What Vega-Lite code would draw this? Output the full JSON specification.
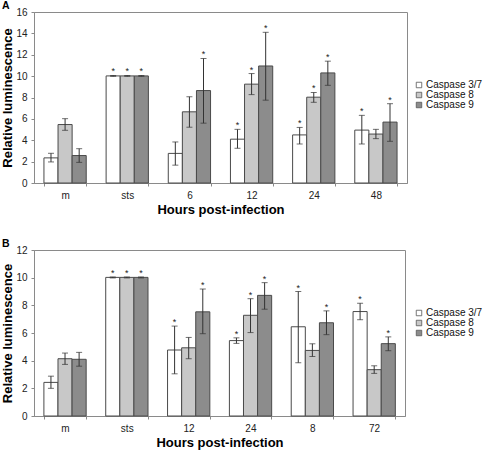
{
  "$schema": "https://vega.github.io/schema/vega-lite/v6.json",
  "padding": {"left": 1, "top": 0, "right": 0, "bottom": 0},
  "background": "white",
  "config": {
    "font": "Liberation Sans",
    "view": {"stroke": "#8a8a8a", "strokeWidth": 1},
    "axis": {"domainColor": "#8a8a8a", "tickColor": "#8a8a8a", "labelColor": "#222", "labelFontSize": 10, "labelFont": "Liberation Sans", "titleFont": "Liberation Sans", "titleFontSize": 13, "titleFontWeight": "bold", "titleColor": "#000", "grid": false, "tickSize": 3, "labelOverlap": false},
    "title": {"fontSize": 10.5, "fontWeight": "bold", "anchor": "start", "frame": "bounds", "offset": -4, "color": "#000", "font": "Liberation Sans"},
    "concat": {"spacing": 21}
  },
  "datasets": {
    "a": [
      {"hour": "m", "series": "Caspase 3/7", "value": 2.35, "lo": 1.97, "hi": 2.78, "sig": ""},
      {"hour": "m", "series": "Caspase 8", "value": 5.47, "lo": 4.93, "hi": 6.02, "sig": ""},
      {"hour": "m", "series": "Caspase 9", "value": 2.57, "lo": 1.93, "hi": 3.21, "sig": ""},
      {"hour": "sts", "series": "Caspase 3/7", "value": 10.02, "lo": 9.98, "hi": 10.06, "sig": "*"},
      {"hour": "sts", "series": "Caspase 8", "value": 10.02, "lo": 9.98, "hi": 10.06, "sig": "*"},
      {"hour": "sts", "series": "Caspase 9", "value": 10.02, "lo": 9.98, "hi": 10.06, "sig": "*"},
      {"hour": "6", "series": "Caspase 3/7", "value": 2.77, "lo": 1.67, "hi": 3.84, "sig": ""},
      {"hour": "6", "series": "Caspase 8", "value": 6.66, "lo": 5.22, "hi": 8.07, "sig": ""},
      {"hour": "6", "series": "Caspase 9", "value": 8.65, "lo": 5.6, "hi": 11.65, "sig": "*"},
      {"hour": "12", "series": "Caspase 3/7", "value": 4.1, "lo": 3.25, "hi": 5.02, "sig": "*"},
      {"hour": "12", "series": "Caspase 8", "value": 9.25, "lo": 8.27, "hi": 10.24, "sig": "*"},
      {"hour": "12", "series": "Caspase 9", "value": 10.95, "lo": 7.75, "hi": 14.1, "sig": "*"},
      {"hour": "24", "series": "Caspase 3/7", "value": 4.5, "lo": 3.65, "hi": 5.2, "sig": "*"},
      {"hour": "24", "series": "Caspase 8", "value": 8.03, "lo": 7.55, "hi": 8.47, "sig": "*"},
      {"hour": "24", "series": "Caspase 9", "value": 10.3, "lo": 9.14, "hi": 11.4, "sig": "*"},
      {"hour": "48", "series": "Caspase 3/7", "value": 4.95, "lo": 3.65, "hi": 6.33, "sig": "*"},
      {"hour": "48", "series": "Caspase 8", "value": 4.58, "lo": 4.15, "hi": 5.02, "sig": ""},
      {"hour": "48", "series": "Caspase 9", "value": 5.7, "lo": 3.9, "hi": 7.42, "sig": "*"}
    ],
    "b": [
      {"hour": "m", "series": "Caspase 3/7", "value": 2.43, "lo": 2.0, "hi": 2.88, "sig": ""},
      {"hour": "m", "series": "Caspase 8", "value": 4.14, "lo": 3.73, "hi": 4.55, "sig": ""},
      {"hour": "m", "series": "Caspase 9", "value": 4.1, "lo": 3.6, "hi": 4.6, "sig": ""},
      {"hour": "sts", "series": "Caspase 3/7", "value": 10.02, "lo": 9.98, "hi": 10.05, "sig": "*"},
      {"hour": "sts", "series": "Caspase 8", "value": 10.02, "lo": 9.98, "hi": 10.05, "sig": "*"},
      {"hour": "sts", "series": "Caspase 9", "value": 10.02, "lo": 9.98, "hi": 10.05, "sig": "*"},
      {"hour": "12", "series": "Caspase 3/7", "value": 4.77, "lo": 3.05, "hi": 6.5, "sig": "*"},
      {"hour": "12", "series": "Caspase 8", "value": 4.93, "lo": 4.14, "hi": 5.68, "sig": ""},
      {"hour": "12", "series": "Caspase 9", "value": 7.53, "lo": 5.95, "hi": 9.18, "sig": "*"},
      {"hour": "24", "series": "Caspase 3/7", "value": 5.45, "lo": 5.25, "hi": 5.65, "sig": "*"},
      {"hour": "24", "series": "Caspase 8", "value": 7.28, "lo": 6.03, "hi": 8.48, "sig": "*"},
      {"hour": "24", "series": "Caspase 9", "value": 8.72, "lo": 7.72, "hi": 9.64, "sig": "*"},
      {"hour": "8", "series": "Caspase 3/7", "value": 6.45, "lo": 3.85, "hi": 9.0, "sig": "*"},
      {"hour": "8", "series": "Caspase 8", "value": 4.74, "lo": 4.3, "hi": 5.22, "sig": ""},
      {"hour": "8", "series": "Caspase 9", "value": 6.74, "lo": 5.88, "hi": 7.6, "sig": "*"},
      {"hour": "72", "series": "Caspase 3/7", "value": 7.55, "lo": 6.96, "hi": 8.15, "sig": "*"},
      {"hour": "72", "series": "Caspase 8", "value": 3.35, "lo": 3.08, "hi": 3.63, "sig": ""},
      {"hour": "72", "series": "Caspase 9", "value": 5.23, "lo": 4.72, "hi": 5.72, "sig": "*"}
    ]
  },
  "resolve": {"legend": {"color": "independent"}, "scale": {"y": "independent", "x": "independent"}},
  "vconcat": [
    {
      "title": {"text": "A"},
      "width": 373,
      "height": 171,
      "data": {"name": "a"},
      "encoding": {
        "x": {"field": "hour", "type": "nominal", "sort": ["m", "sts", "6", "12", "24", "48"], "scale": {"paddingInner": 0.32, "paddingOuter": 0.16}, "axis": {"title": "Hours post-infection", "labelAngle": 0, "tickBand": "extent", "labelPadding": 4, "titlePadding": 3}},
        "xOffset": {"field": "series", "type": "nominal", "sort": ["Caspase 3/7", "Caspase 8", "Caspase 9"], "scale": {"paddingInner": 0, "paddingOuter": 0}}
      },
      "layer": [
        {
          "mark": {"type": "bar", "stroke": "#4a4a4a", "strokeWidth": 1},
          "encoding": {
            "y": {"field": "value", "type": "quantitative", "title": "Relative luminescence", "scale": {"domain": [0, 16], "nice": false}, "axis": {"values": [0, 2, 4, 6, 8, 10, 12, 14, 16], "tickCount": 9, "labelPadding": 4, "titlePadding": 1, "labelOverlap": false}},
            "color": {"field": "series", "type": "nominal", "scale": {"domain": ["Caspase 3/7", "Caspase 8", "Caspase 9"], "range": ["#ffffff", "#c8c8c8", "#8c8c8c"]}, "legend": {"orient": "none", "legendX": 380, "legendY": 68, "title": null, "padding": 0, "symbolType": "square", "symbolSize": 30, "symbolStrokeColor": "#555", "symbolStrokeWidth": 0.8, "labelFontSize": 10, "labelColor": "#111", "rowPadding": 0, "labelOffset": 2}}
          }
        },
        {
          "mark": {"type": "rule", "color": "#333", "strokeWidth": 1},
          "encoding": {"y": {"field": "lo", "type": "quantitative", "title": "Relative luminescence", "axis": {"values": [0, 2, 4, 6, 8, 10, 12, 14, 16], "tickCount": 9, "labelPadding": 4, "titlePadding": 1, "labelOverlap": false}}, "y2": {"field": "hi"}}
        },
        {
          "mark": {"type": "tick", "color": "#333", "thickness": 1, "size": 6},
          "encoding": {"y": {"field": "lo", "type": "quantitative", "title": "Relative luminescence", "axis": {"values": [0, 2, 4, 6, 8, 10, 12, 14, 16], "tickCount": 9, "labelPadding": 4, "titlePadding": 1, "labelOverlap": false}}}
        },
        {
          "mark": {"type": "tick", "color": "#333", "thickness": 1, "size": 6},
          "encoding": {"y": {"field": "hi", "type": "quantitative", "title": "Relative luminescence", "axis": {"values": [0, 2, 4, 6, 8, 10, 12, 14, 16], "tickCount": 9, "labelPadding": 4, "titlePadding": 1, "labelOverlap": false}}}
        },
        {
          "mark": {"type": "text", "fontSize": 9, "baseline": "alphabetic", "dy": -1, "color": "#222"},
          "encoding": {"y": {"field": "hi", "type": "quantitative", "title": "Relative luminescence", "axis": {"values": [0, 2, 4, 6, 8, 10, 12, 14, 16], "tickCount": 9, "labelPadding": 4, "titlePadding": 1, "labelOverlap": false}}, "text": {"field": "sig"}}
        }
      ]
    },
    {
      "title": {"text": "B"},
      "width": 371,
      "height": 166,
      "data": {"name": "b"},
      "encoding": {
        "x": {"field": "hour", "type": "nominal", "sort": ["m", "sts", "12", "24", "8", "72"], "scale": {"paddingInner": 0.32, "paddingOuter": 0.16}, "axis": {"title": "Hours post-infection", "labelAngle": 0, "tickBand": "extent", "labelPadding": 4, "titlePadding": 3}},
        "xOffset": {"field": "series", "type": "nominal", "sort": ["Caspase 3/7", "Caspase 8", "Caspase 9"], "scale": {"paddingInner": 0, "paddingOuter": 0}}
      },
      "layer": [
        {
          "mark": {"type": "bar", "stroke": "#4a4a4a", "strokeWidth": 1},
          "encoding": {
            "y": {"field": "value", "type": "quantitative", "title": "Relative luminescence", "scale": {"domain": [0, 12], "nice": false}, "axis": {"values": [0, 2, 4, 6, 8, 10, 12], "tickCount": 7, "labelPadding": 4, "titlePadding": 1, "labelOverlap": false}},
            "color": {"field": "series", "type": "nominal", "scale": {"domain": ["Caspase 3/7", "Caspase 8", "Caspase 9"], "range": ["#ffffff", "#c8c8c8", "#8c8c8c"]}, "legend": {"orient": "none", "legendX": 380, "legendY": 58, "title": null, "padding": 0, "symbolType": "square", "symbolSize": 30, "symbolStrokeColor": "#555", "symbolStrokeWidth": 0.8, "labelFontSize": 10, "labelColor": "#111", "rowPadding": 0, "labelOffset": 2}}
          }
        },
        {
          "mark": {"type": "rule", "color": "#333", "strokeWidth": 1},
          "encoding": {"y": {"field": "lo", "type": "quantitative", "title": "Relative luminescence", "axis": {"values": [0, 2, 4, 6, 8, 10, 12], "tickCount": 7, "labelPadding": 4, "titlePadding": 1, "labelOverlap": false}}, "y2": {"field": "hi"}}
        },
        {
          "mark": {"type": "tick", "color": "#333", "thickness": 1, "size": 6},
          "encoding": {"y": {"field": "lo", "type": "quantitative", "title": "Relative luminescence", "axis": {"values": [0, 2, 4, 6, 8, 10, 12], "tickCount": 7, "labelPadding": 4, "titlePadding": 1, "labelOverlap": false}}}
        },
        {
          "mark": {"type": "tick", "color": "#333", "thickness": 1, "size": 6},
          "encoding": {"y": {"field": "hi", "type": "quantitative", "title": "Relative luminescence", "axis": {"values": [0, 2, 4, 6, 8, 10, 12], "tickCount": 7, "labelPadding": 4, "titlePadding": 1, "labelOverlap": false}}}
        },
        {
          "mark": {"type": "text", "fontSize": 9, "baseline": "alphabetic", "dy": -1, "color": "#222"},
          "encoding": {"y": {"field": "hi", "type": "quantitative", "title": "Relative luminescence", "axis": {"values": [0, 2, 4, 6, 8, 10, 12], "tickCount": 7, "labelPadding": 4, "titlePadding": 1, "labelOverlap": false}}, "text": {"field": "sig"}}
        }
      ]
    }
  ]
}
